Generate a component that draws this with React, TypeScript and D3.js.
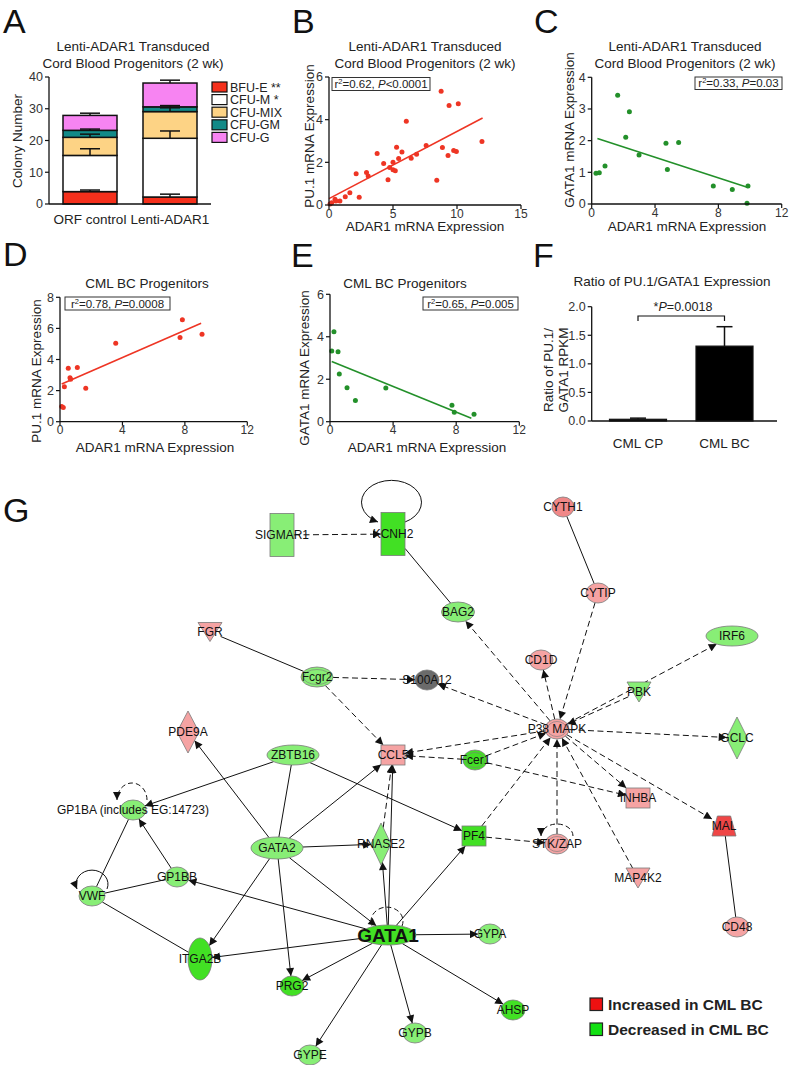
import React from "react";
import * as d3 from "d3";

const FONT = "'Liberation Sans', Arial, Helvetica, sans-serif";

// ---------- Panel A data ----------
const groupsA = ["ORF control", "Lenti-ADAR1"];
const coloniesA = ["BFU-E", "CFU-M", "CFU-MIX", "CFU-GM", "CFU-G"];
const legendA = ["BFU-E **", "CFU-M *", "CFU-MIX", "CFU-GM", "CFU-G"];
const orfValues = [3.9, 11.4, 5.7, 2.2, 4.7];
const orfErrors = [0.5, 2.1, 1.0, 0.4, 0.7];
const lentiValues = [2.2, 18.5, 8.4, 1.5, 7.5];
const lentiErrors = [0.9, 2.3, 1.2, 0.4, 0.9];
const colonyColors = ["#f5301c", "#ffffff", "#fdd385", "#128a88", "#f784f2"];
const ticksA = [0, 10, 20, 30, 40];

// ---------- Panel B data ----------
const bPoints: [number, number][] = [
  [8.76, 5.33], [9.38, 4.66], [10.1, 4.75], [6.04, 3.92], [11.95, 2.98],
  [7.59, 2.79], [8.86, 2.7], [5.28, 2.71], [5.7, 2.48], [3.76, 2.41],
  [6.84, 2.38], [9.74, 2.55], [9.95, 2.51], [9.3, 2.32], [6.42, 2.19],
  [5.44, 2.18], [4.27, 1.94], [5.0, 2.0], [2.93, 1.52], [3.06, 1.36],
  [2.12, 1.47], [4.74, 1.76], [5.0, 1.65], [5.18, 1.61], [4.61, 1.18],
  [8.42, 1.16], [1.63, 0.58], [1.27, 0.39], [2.36, 0.36], [0.85, 0.19],
  [0.47, 0.27], [0.21, 0.11], [0.08, 0.05], [0.54, 0.19],
];
const bFit: [number, number][] = [[0, 0.3], [12, 4.08]];
const bTicksX = [0, 5, 10, 15];
const bTicksY = [0, 2, 4, 6];

// ---------- Panel C data ----------
const cPoints: [number, number][] = [
  [1.64, 3.43], [2.38, 2.91], [2.15, 2.11], [2.99, 1.55], [4.69, 1.92],
  [5.49, 1.94], [4.78, 1.09], [0.84, 1.2], [0.48, 0.99], [0.27, 0.97],
  [7.68, 0.57], [8.88, 0.46], [9.87, 0.57], [9.81, 0.02],
];
const cFit: [number, number][] = [[0.36, 2.07], [9.87, 0.52]];
const cTicksX = [0, 4, 8, 12];
const cTicksY = [0, 1, 2, 3, 4];

// ---------- Panel D data ----------
const dPoints: [number, number][] = [
  [0.11, 0.97], [0.21, 0.92], [0.28, 2.25], [0.53, 3.43], [0.64, 2.83],
  [0.68, 2.73], [1.11, 3.48], [1.65, 2.15], [3.57, 5.04], [7.84, 6.55],
  [7.69, 5.41], [9.1, 5.62],
];
const dFit: [number, number][] = [[0.11, 2.42], [9.04, 6.33]];
const dTicksX = [0, 4, 8, 12];
const dTicksY = [0, 2, 4, 6, 8];

// ---------- Panel E data ----------
const ePoints: [number, number][] = [
  [0.25, 4.24], [0.11, 3.33], [0.51, 3.3], [0.59, 2.25], [1.08, 1.6],
  [1.61, 1.0], [3.54, 1.59], [7.73, 0.78], [7.88, 0.44], [9.13, 0.35],
];
const eFit: [number, number][] = [[0.11, 2.83], [8.96, 0.16]];
const eTicksX = [0, 4, 8, 12];
const eTicksY = [0, 2, 4, 6];

// ---------- Panel F data ----------
const fGroups = ["CML CP", "CML BC"];
const fValues = [0.03, 1.31];
const fErrors = [0.02, 0.34];
const fTicks = [0, 0.5, 1.0, 1.5, 2.0];

// ---------- Panel G network ----------
type NodeDef = { id: string; label?: string; shape: string; color: string; x: number; y: number; w: number; h: number; double?: boolean; big?: boolean };
const LG = "#88ee76";
const BG = "#42e024";
const PK = "#f5a3a3";
const PK2 = "#f08888";
const RD = "#ef4646";
const GR = "#6b6b6b";
const gNodes: NodeDef[] = [
  { id: "SIGMAR1", shape: "rect", color: LG, x: 282, y: 55, w: 24, h: 43 },
  { id: "KCNH2", shape: "rect", color: BG, x: 393, y: 54, w: 24, h: 43 },
  { id: "BAG2", shape: "ellipse", color: LG, x: 458, y: 132, w: 33, h: 20 },
  { id: "CYTH1", shape: "ellipse", color: PK2, x: 563, y: 27, w: 22, h: 20 },
  { id: "CYTIP", shape: "ellipse", color: PK, x: 598, y: 113, w: 24, h: 20 },
  { id: "FGR", shape: "tri", color: PK, x: 210, y: 152, w: 24, h: 19 },
  { id: "Fcgr2", shape: "ellipse", color: LG, x: 317, y: 197, w: 32, h: 20, double: true },
  { id: "S100A12", shape: "ellipse", color: GR, x: 427, y: 200, w: 24, h: 20 },
  { id: "CD1D", shape: "ellipse", color: PK, x: 541, y: 180, w: 24, h: 20 },
  { id: "IRF6", shape: "ellipse", color: LG, x: 732, y: 156, w: 52, h: 20 },
  { id: "PBK", shape: "tri", color: LG, x: 639, y: 212, w: 24, h: 20 },
  { id: "P38 MAPK", shape: "ellipse", color: PK, x: 557, y: 249, w: 24, h: 20, double: true },
  { id: "GCLC", shape: "diamond", color: LG, x: 737, y: 258, w: 21, h: 42 },
  { id: "PDE9A", shape: "diamond", color: PK, x: 188, y: 252, w: 22, h: 42 },
  { id: "ZBTB16", shape: "ellipse", color: LG, x: 293, y: 275, w: 52, h: 20 },
  { id: "CCL5", shape: "rect", color: PK, x: 393, y: 275, w: 24, h: 20 },
  { id: "Fcer1", shape: "ellipse", color: BG, x: 475, y: 280, w: 24, h: 20, double: true },
  { id: "INHBA", shape: "rect", color: PK, x: 638, y: 318, w: 24, h: 20 },
  { id: "GP1BA", label: "GP1BA (includes EG:14723)", shape: "ellipse", color: LG, x: 133, y: 330, w: 26, h: 20 },
  { id: "RNASE2", shape: "diamond", color: LG, x: 381, y: 364, w: 20, h: 42 },
  { id: "PF4", shape: "rect", color: BG, x: 474, y: 356, w: 24, h: 20 },
  { id: "GATA2", shape: "ellipse", color: LG, x: 277, y: 368, w: 52, h: 22 },
  { id: "STK/ZAP", shape: "ellipse", color: PK, x: 557, y: 364, w: 24, h: 20, double: true },
  { id: "MAL", shape: "trap", color: RD, x: 724, y: 346, w: 24, h: 20 },
  { id: "GP1BB", shape: "ellipse", color: LG, x: 177, y: 397, w: 24, h: 20 },
  { id: "MAP4K2", shape: "tri", color: PK, x: 638, y: 398, w: 24, h: 20 },
  { id: "VWF", shape: "ellipse", color: LG, x: 92, y: 416, w: 26, h: 20 },
  { id: "CD48", shape: "ellipse", color: PK, x: 737, y: 447, w: 24, h: 20 },
  { id: "GATA1", shape: "ellipse", color: BG, x: 388, y: 455, w: 56, h: 20, big: true },
  { id: "GYPA", shape: "ellipse", color: LG, x: 490, y: 454, w: 24, h: 20 },
  { id: "ITGA2B", shape: "ellipse", color: BG, x: 200, y: 479, w: 24, h: 42 },
  { id: "PRG2", shape: "ellipse", color: BG, x: 292, y: 506, w: 24, h: 20 },
  { id: "AHSP", shape: "ellipse", color: BG, x: 513, y: 530, w: 24, h: 20 },
  { id: "GYPB", shape: "ellipse", color: LG, x: 415, y: 553, w: 24, h: 20 },
  { id: "GYPE", shape: "ellipse", color: LG, x: 310, y: 575, w: 24, h: 20 },
];
// [source, target, dashed, arrow at target]
const gEdges: [string, string, boolean, boolean][] = [
  ["SIGMAR1", "KCNH2", true, true],
  ["KCNH2", "BAG2", false, false],
  ["CYTH1", "CYTIP", false, false],
  ["CYTIP", "P38 MAPK", true, true],
  ["P38 MAPK", "BAG2", true, true],
  ["P38 MAPK", "CD1D", true, true],
  ["P38 MAPK", "S100A12", true, true],
  ["P38 MAPK", "IRF6", true, true],
  ["PBK", "P38 MAPK", true, true],
  ["P38 MAPK", "GCLC", true, true],
  ["P38 MAPK", "CCL5", true, true],
  ["P38 MAPK", "INHBA", true, true],
  ["P38 MAPK", "MAL", true, true],
  ["MAP4K2", "P38 MAPK", true, true],
  ["STK/ZAP", "P38 MAPK", true, true],
  ["PF4", "P38 MAPK", true, true],
  ["Fcer1", "P38 MAPK", true, true],
  ["Fcer1", "CCL5", true, true],
  ["Fcer1", "INHBA", true, true],
  ["PF4", "STK/ZAP", true, true],
  ["FGR", "Fcgr2", false, false],
  ["Fcgr2", "S100A12", true, true],
  ["Fcgr2", "CCL5", true, true],
  ["MAL", "CD48", false, false],
  ["GATA2", "PDE9A", false, true],
  ["GATA2", "CCL5", false, true],
  ["GATA2", "RNASE2", false, true],
  ["GATA2", "ITGA2B", false, true],
  ["GATA2", "PRG2", false, true],
  ["GATA2", "GATA1", false, true],
  ["ZBTB16", "GATA2", false, false],
  ["ZBTB16", "GP1BA", false, true],
  ["ZBTB16", "PF4", false, true],
  ["GP1BB", "GP1BA", false, true],
  ["VWF", "GP1BA", false, false],
  ["VWF", "GP1BB", false, false],
  ["VWF", "ITGA2B", false, false],
  ["GATA1", "GP1BB", false, true],
  ["GATA1", "ITGA2B", false, true],
  ["GATA1", "PRG2", false, true],
  ["GATA1", "GYPE", false, true],
  ["GATA1", "GYPB", false, true],
  ["GATA1", "AHSP", false, true],
  ["GATA1", "GYPA", false, true],
  ["GATA1", "PF4", false, true],
  ["GATA1", "RNASE2", false, true],
  ["GATA1", "CCL5", false, true],
  ["RNASE2", "CCL5", true, true],
];
// self loops: node, dashed, arrow, start dx, end dx, dy, rx, ry
const gLoops: [string, boolean, boolean, number, number, number, number, number][] = [
  ["KCNH2", false, true, 12, -15, -12, 30, 22],
  ["GP1BA", true, true, 14, -16, -10, 15, 17],
  ["VWF", false, true, 15, -15, -7, 16, 14],
  ["GATA1", true, false, 14, -16, -9, 16, 14],
  ["STK/ZAP", true, true, 16, -16, -8, 16, 12],
];
const legendG = [
  { label: "Increased in CML BC", color: "#ee1111" },
  { label: "Decreased in CML BC", color: "#11e011" },
];

// ---------- helpers ----------
function YAxis({ scale, x, ticks, fmt }: any) {
  const [r0, r1] = scale.range();
  return (
    <g>
      <line x1={x} x2={x} y1={r0} y2={r1} stroke="#111" strokeWidth={1.3} />
      {ticks.map((t: number) => (
        <g key={t}>
          <line x1={x - 4} x2={x} y1={scale(t)} y2={scale(t)} stroke="#111" strokeWidth={1.2} />
          <text x={x - 6} y={scale(t)} dy="0.35em" textAnchor="end" fontSize={12.5} fill="#333">
            {fmt ? fmt(t) : t}
          </text>
        </g>
      ))}
    </g>
  );
}
function XAxis({ scale, y, ticks }: any) {
  const [r0, r1] = scale.range();
  return (
    <g>
      <line x1={r0} x2={r1} y1={y} y2={y} stroke="#111" strokeWidth={1.3} />
      {ticks.map((t: number) => (
        <g key={t}>
          <line x1={scale(t)} x2={scale(t)} y1={y} y2={y + 4} stroke="#111" strokeWidth={1.2} />
          <text x={scale(t)} y={y + 12.5} textAnchor="middle" fontSize={12} fill="#333">{t}</text>
        </g>
      ))}
    </g>
  );
}
function StatBox({ x, y, w, h, r2, op, p }: any) {
  return (
    <g>
      <rect x={x} y={y} width={w} height={h} fill="white" stroke="#333" strokeWidth={1} />
      <text x={x + w / 2} y={y + h - 2.5} textAnchor="middle" fontSize={11.5} fill="#222">
        <tspan>r</tspan>
        <tspan dy={-4} fontSize={7.5}>2</tspan>
        <tspan dy={4}>{`=${r2}, `}</tspan>
        <tspan fontStyle="italic">P</tspan>
        <tspan>{`${op}${p}`}</tspan>
      </text>
    </g>
  );
}
function Scatter({ pts, fit, xs, ys, color }: any) {
  const line = d3.line<[number, number]>().x((d) => xs(d[0])).y((d) => ys(d[1]));
  return (
    <g>
      <path d={line(fit) || ""} stroke={color} strokeWidth={1.6} fill="none" />
      {pts.map((d: [number, number], i: number) => (
        <circle key={i} cx={xs(d[0])} cy={ys(d[1])} r={2.5} fill={color} />
      ))}
    </g>
  );
}

function boundary(n: NodeDef, ux: number, uy: number) {
  const hw = n.w / 2, hh = n.h / 2;
  const ax = Math.abs(ux), ay = Math.abs(uy);
  if (n.shape === "rect" || n.shape === "trap") {
    return Math.min(ax > 1e-6 ? hw / ax : 1e9, ay > 1e-6 ? hh / ay : 1e9);
  }
  if (n.shape === "diamond") return 1 / (ax / hw + ay / hh);
  return 1 / Math.sqrt((ux / hw) ** 2 + (uy / hh) ** 2);
}

function NodeShape({ n, gx, gy }: any) {
  const cx = gx(n.x), cy = gy(n.y);
  const hw = n.w / 2, hh = n.h / 2;
  const st = { fill: n.color, stroke: "#7a7a7a", strokeWidth: 0.8 };
  let shape: any = null;
  if (n.shape === "rect") shape = <rect x={cx - hw} y={cy - hh} width={n.w} height={n.h} {...st} />;
  else if (n.shape === "ellipse") shape = (
    <g>
      <ellipse cx={cx} cy={cy} rx={hw} ry={hh} {...st} />
      {n.double && <ellipse cx={cx} cy={cy} rx={hw - 2.5} ry={hh - 2.5} fill="none" stroke="#7a7a7a" strokeWidth={0.6} />}
    </g>
  );
  else if (n.shape === "diamond") shape = <polygon points={`${cx},${cy - hh} ${cx + hw},${cy} ${cx},${cy + hh} ${cx - hw},${cy}`} {...st} />;
  else if (n.shape === "tri") shape = <polygon points={`${cx - hw},${cy - hh} ${cx + hw},${cy - hh} ${cx},${cy + hh}`} {...st} />;
  else if (n.shape === "trap") shape = <polygon points={`${cx - hw * 0.55},${cy - hh} ${cx + hw * 0.55},${cy - hh} ${cx + hw},${cy + hh} ${cx - hw},${cy + hh}`} {...st} />;
  return shape;
}

export default function App() {
  const yA = d3.scaleLinear().domain([0, 40]).range([204, 77]);
  const xA = d3.scaleBand().domain(groupsA).range([49, 211]).paddingInner(0.325).paddingOuter(0.175);
  const stackA = [orfValues, lentiValues].map((vals, gi) => {
    let acc = 0;
    return vals.map((v, i) => {
      const y0 = acc;
      acc += v;
      return { g: groupsA[gi], i, y0, y1: acc, err: (gi === 0 ? orfErrors : lentiErrors)[i] };
    });
  });

  const xB = d3.scaleLinear().domain([0, 15]).range([329, 521]);
  const yB = d3.scaleLinear().domain([0, 6]).range([205, 77]);
  const xC = d3.scaleLinear().domain([0, 12]).range([591.7, 781.7]);
  const yC = d3.scaleLinear().domain([0, 4]).range([204, 77.3]);
  const xD = d3.scaleLinear().domain([0, 12]).range([60, 247.3]);
  const yD = d3.scaleLinear().domain([0, 8]).range([421.7, 297.3]);
  const xE = d3.scaleLinear().domain([0, 12]).range([330, 519.3]);
  const yE = d3.scaleLinear().domain([0, 6]).range([421.7, 294.3]);
  const yF = d3.scaleLinear().domain([0, 2]).range([421, 306.7]);
  const xF = d3.scalePoint().domain(fGroups).range([638, 724.5]);
  const barWF = 57;

  const gx = d3.scaleLinear().domain([0, 789]).range([0, 789]);
  const gy = d3.scaleLinear().domain([0, 585]).range([480, 1065]);
  const nodeMap = new Map(gNodes.map((n) => [n.id, n]));

  const red = "#ee3524";
  const green = "#23902a";

  return (
    <svg width={789} height={1065} style={{ position: "absolute", left: 0, top: 0, background: "white" }} fontFamily={FONT}>
      <defs>
        <marker id="arr" viewBox="0 0 10 10" refX={10} refY={5} markerWidth={9} markerHeight={8} markerUnits="userSpaceOnUse" orient="auto">
          <path d="M0,0L10,5L0,10z" fill="#111" />
        </marker>
      </defs>
      <rect x={0} y={0} width={789} height={1065} fill="white" />

      {[
        ["A", 3, 33], ["B", 292, 33], ["C", 534, 33], ["D", 3, 266], ["E", 291, 267], ["F", 533, 267], ["G", 3, 522],
      ].map(([l, x, y]: any) => (
        <text key={l} x={x} y={y} fontSize={34} fill="#111">{l}</text>
      ))}

      {/* Panel A */}
      <g>
        <text x={133} y={51} textAnchor="middle" fontSize={13.5} fill="#222">Lenti-ADAR1 Transduced</text>
        <text x={133} y={68} textAnchor="middle" fontSize={13.5} fill="#222">Cord Blood Progenitors (2 wk)</text>
        <text transform="translate(22,141) rotate(-90)" textAnchor="middle" fontSize={13.5} fill="#222">Colony Number</text>
        {stackA.map((segs, gi) =>
          segs.map((s) => (
            <rect key={`${gi}-${s.i}`} x={xA(s.g)!} y={yA(s.y1)} width={xA.bandwidth()} height={yA(s.y0) - yA(s.y1)}
              fill={colonyColors[s.i]} stroke="#111" strokeWidth={1.5} />
          ))
        )}
        {stackA.map((segs, gi) =>
          segs.map((s) => {
            const cx = xA(s.g)! + xA.bandwidth() / 2;
            return (
              <g key={`e${gi}-${s.i}`}>
                <line x1={cx} x2={cx} y1={yA(s.y1)} y2={yA(s.y1 + s.err)} stroke="#111" strokeWidth={1.5} />
                <line x1={cx - 10} x2={cx + 10} y1={yA(s.y1 + s.err)} y2={yA(s.y1 + s.err)} stroke="#111" strokeWidth={1.5} />
              </g>
            );
          })
        )}
        <YAxis scale={yA} x={49} ticks={ticksA} />
        <line x1={49} x2={211} y1={204} y2={204} stroke="#111" strokeWidth={1.3} />
        {groupsA.map((g) => (
          <text key={g} x={xA(g)! + xA.bandwidth() / 2} y={224} textAnchor="middle" fontSize={13.5} fill="#222">{g}</text>
        ))}
        {legendA.map((l, i) => (
          <g key={l}>
            <rect x={212} y={82 + i * 12.6} width={15} height={10} fill={colonyColors[i]} stroke="#111" strokeWidth={1.2} />
            <text x={230} y={91.5 + i * 12.6} fontSize={12.5} fill="#222">{l}</text>
          </g>
        ))}
      </g>

      {/* Panel B */}
      <g>
        <text x={425} y={51} textAnchor="middle" fontSize={13.5} fill="#222">Lenti-ADAR1 Transduced</text>
        <text x={425} y={68} textAnchor="middle" fontSize={13.5} fill="#222">Cord Blood Progenitors (2 wk)</text>
        <text transform="translate(314,136) rotate(-90)" textAnchor="middle" fontSize={13.5} fill="#222">PU.1 mRNA Expression</text>
        <text x={425} y={231} textAnchor="middle" fontSize={13.5} fill="#222">ADAR1 mRNA Expression</text>
        <Scatter pts={bPoints} fit={bFit} xs={xB} ys={yB} color={red} />
        <YAxis scale={yB} x={329} ticks={bTicksY} />
        <XAxis scale={xB} y={205} ticks={bTicksX} />
        <StatBox x={332} y={77.5} w={98} h={13} r2="0.62" op="<" p="0.0001" />
      </g>

      {/* Panel C */}
      <g>
        <text x={685} y={51} textAnchor="middle" fontSize={13.5} fill="#222">Lenti-ADAR1 Transduced</text>
        <text x={685} y={68} textAnchor="middle" fontSize={13.5} fill="#222">Cord Blood Progenitors (2 wk)</text>
        <text transform="translate(574,130) rotate(-90)" textAnchor="middle" fontSize={13.5} fill="#222">GATA1 mRNA Expression</text>
        <text x={687} y={231} textAnchor="middle" fontSize={13.5} fill="#222">ADAR1 mRNA Expression</text>
        <Scatter pts={cPoints} fit={cFit} xs={xC} ys={yC} color={green} />
        <YAxis scale={yC} x={591.7} ticks={cTicksY} />
        <XAxis scale={xC} y={204} ticks={cTicksX} />
        <StatBox x={695} y={77} w={87} h={12.5} r2="0.33" op="=" p="0.03" />
      </g>

      {/* Panel D */}
      <g>
        <text x={147} y={288} textAnchor="middle" fontSize={13.5} fill="#222">CML BC Progenitors</text>
        <text transform="translate(41,371) rotate(-90)" textAnchor="middle" fontSize={13.5} fill="#222">PU.1 mRNA Expression</text>
        <text x={155} y={452} textAnchor="middle" fontSize={13.5} fill="#222">ADAR1 mRNA Expression</text>
        <Scatter pts={dPoints} fit={dFit} xs={xD} ys={yD} color={red} />
        <YAxis scale={yD} x={60} ticks={dTicksY} />
        <XAxis scale={xD} y={421.7} ticks={dTicksX} />
        <StatBox x={65} y={297} w={105} h={13} r2="0.78" op="=" p="0.0008" />
      </g>

      {/* Panel E */}
      <g>
        <text x={405} y={288} textAnchor="middle" fontSize={13.5} fill="#222">CML BC Progenitors</text>
        <text transform="translate(309,368) rotate(-90)" textAnchor="middle" fontSize={13.5} fill="#222">GATA1 mRNA Expression</text>
        <text x={427} y={452} textAnchor="middle" fontSize={13.5} fill="#222">ADAR1 mRNA Expression</text>
        <Scatter pts={ePoints} fit={eFit} xs={xE} ys={yE} color={green} />
        <YAxis scale={yE} x={330} ticks={eTicksY} />
        <XAxis scale={xE} y={421.7} ticks={eTicksX} />
        <StatBox x={423} y={297} w={95} h={13} r2="0.65" op="=" p="0.005" />
      </g>

      {/* Panel F */}
      <g>
        <text x={672} y={286} textAnchor="middle" fontSize={13.5} fill="#222">Ratio of PU.1/GATA1 Expression</text>
        <text transform="translate(553,370) rotate(-90)" textAnchor="middle" fontSize={13.5} fill="#222">Ratio of PU.1/</text>
        <text transform="translate(568,370) rotate(-90)" textAnchor="middle" fontSize={13.5} fill="#222">GATA1 RPKM</text>
        {fGroups.map((g, i) => {
          const cx = xF(g)!;
          return (
            <g key={g}>
              <line x1={cx} x2={cx} y1={yF(fValues[i])} y2={yF(fValues[i] + fErrors[i])} stroke="#111" strokeWidth={1.5} />
              <line x1={cx - 8} x2={cx + 8} y1={yF(fValues[i] + fErrors[i])} y2={yF(fValues[i] + fErrors[i])} stroke="#111" strokeWidth={1.5} />
              <rect x={cx - barWF / 2} y={yF(fValues[i])} width={barWF} height={yF(0) - yF(fValues[i])} fill="#000" stroke="#111" strokeWidth={1.2} />
              <text x={cx} y={448} textAnchor="middle" fontSize={13.5} fill="#222">{g}</text>
            </g>
          );
        })}
        <YAxis scale={yF} x={591.7} ticks={fTicks} fmt={(t: number) => t.toFixed(1)} />
        <line x1={591.7} x2={777} y1={421} y2={421} stroke="#111" strokeWidth={1.3} />
        <path d={`M${xF("CML CP")},321 V316 H${xF("CML BC")} V321`} fill="none" stroke="#111" strokeWidth={1.2} />
        <text x={683} y={311} textAnchor="middle" fontSize={12.5} fill="#222">
          <tspan>*</tspan><tspan fontStyle="italic">P</tspan><tspan>=0.0018</tspan>
        </text>
      </g>

      {/* Panel G */}
      <g>
        {gEdges.map(([s, t, dashed, arrow], i) => {
          const a = nodeMap.get(s)!, b = nodeMap.get(t)!;
          const ax = gx(a.x), ay = gy(a.y), bx = gx(b.x), by = gy(b.y);
          const dx = bx - ax, dy = by - ay;
          const L = Math.hypot(dx, dy);
          const ux = dx / L, uy = dy / L;
          const ra = boundary(a, ux, uy);
          const rb = boundary(b, -ux, -uy);
          return (
            <line key={i} x1={ax + ux * ra} y1={ay + uy * ra} x2={bx - ux * rb} y2={by - uy * rb}
              stroke="#111" strokeWidth={1} strokeDasharray={dashed ? "6,3.5" : undefined}
              markerEnd={arrow ? "url(#arr)" : undefined} />
          );
        })}
        {gLoops.map(([id, dashed, arrow, sdx, edx, dy, rx, ry]) => {
          const n = nodeMap.get(id)!;
          const cx = gx(n.x), cy = gy(n.y);
          return (
            <path key={id} d={`M${cx + sdx},${cy + dy} A${rx},${ry} 0 1 0 ${cx + edx},${cy + dy}`} fill="none"
              stroke="#111" strokeWidth={1} strokeDasharray={dashed ? "5,3" : undefined}
              markerEnd={arrow ? "url(#arr)" : undefined} />
          );
        })}
        {gNodes.map((n) => (
          <NodeShape key={n.id} n={n} gx={gx} gy={gy} />
        ))}
        {gNodes.map((n) => (
          <text key={`t${n.id}`} x={gx(n.x)} y={gy(n.y)} dy="0.36em" textAnchor="middle"
            fontSize={n.big ? 19 : 12} fontWeight={n.big ? "bold" : "normal"} fill="#111">
            {n.label || n.id}
          </text>
        ))}
        {legendG.map((l, i) => (
          <g key={l.label}>
            <rect x={590} y={998 + i * 25} width={12.5} height={12.5} fill={l.color} stroke="#222" strokeWidth={1.2} />
            <text x={608} y={1009.5 + i * 25} fontSize={15.5} fontWeight="bold" fill="#222">{l.label}</text>
          </g>
        ))}
      </g>
    </svg>
  );
}
